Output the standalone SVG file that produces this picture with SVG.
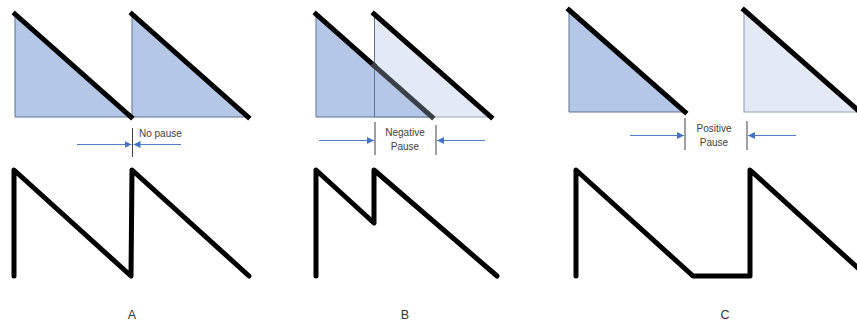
<svg xmlns="http://www.w3.org/2000/svg" width="857" height="324" viewBox="0 0 857 324">
<style>
.dark{fill:#b4c7e7;stroke:none}
.light{fill:#e3e9f5;stroke:none}
.edge{fill:none;stroke:#5f7190;stroke-width:1}
.ledge{fill:none;stroke:#9aa6b8;stroke-width:1.2}
.diag{stroke:#000;stroke-width:5;stroke-linecap:square;fill:none}
.wave{stroke:#000;stroke-width:5;stroke-linecap:round;stroke-linejoin:round;fill:none}
.tick{stroke:#404040;stroke-width:1}
.arr{stroke:#4f7ec4;stroke-width:1;fill:none;marker-end:url(#ah)}
.t{font-family:"Liberation Sans",Arial,sans-serif;font-size:10px;fill:#404040}
.lbl{font-family:"Liberation Sans",Arial,sans-serif;font-size:12.5px;fill:#333;text-anchor:middle}
</style>
<defs>
<marker id="ah" viewBox="0 0 10 10" refX="10" refY="5" markerWidth="7" markerHeight="7" markerUnits="userSpaceOnUse" orient="auto">
<path d="M0,0 L10,5 L0,10 z" fill="#4472c4"/>
</marker>
</defs>

<g id="panelA-top">
<polygon class="dark" points="15,14 131,117 15,117"/>
<polyline class="edge" points="15,14 15,117 131,117"/>
<polygon class="dark" points="132,14 248,117 132,117"/>
<polyline class="edge" points="132,14 132,117 248,117"/>
<line class="diag" x1="15" y1="14" x2="131" y2="117"/>
<line class="diag" x1="132" y1="14" x2="248" y2="117"/>
</g>

<g id="panelA-pause">
<line class="tick" x1="132.5" y1="128" x2="132.5" y2="157"/>
<text class="t" x="139" y="137">No pause</text>
</g>

<g id="panelB-top">
<polygon class="light" points="374,14 491,117 374,117"/>
<polyline class="ledge" points="374,117 491,117"/>
<polygon class="dark" points="316,14 432,117 316,117"/>
<polyline class="edge" points="316,14 316,117 432,117"/>
<line x1="374.5" y1="14" x2="374.5" y2="117" stroke="#5f7190" stroke-width="1"/>
<line class="diag" x1="316" y1="14" x2="374" y2="65.5"/>
<line x1="374" y1="65.5" x2="432" y2="117" stroke="#3a3f48" stroke-width="5" stroke-linecap="square"/>
<line class="diag" x1="374" y1="14" x2="491" y2="117"/>
</g>

<g id="panelB-pause">
<line class="tick" x1="375" y1="122" x2="375" y2="155"/>
<line class="tick" x1="436" y1="125" x2="436" y2="155"/>
<text class="t" x="405" y="136" text-anchor="middle" font-size="10.5">Negative</text>
<text class="t" x="405" y="150" text-anchor="middle" font-size="10.5">Pause</text>
</g>

<g id="panelC-top">
<polygon class="dark" points="569,10 685,112 569,112"/>
<polyline class="edge" points="569,10 569,112 685,112"/>
<polygon class="light" points="744,10 860,112 744,112"/>
<polyline class="ledge" points="744,10 744,112 860,112"/>
<line class="diag" x1="569" y1="10" x2="685" y2="112"/>
<line class="diag" x1="744" y1="10" x2="860" y2="112"/>
</g>

<g id="panelC-pause">
<line class="tick" x1="685" y1="118" x2="685" y2="150"/>
<line class="tick" x1="747" y1="121" x2="747" y2="150"/>
<text class="t" x="714" y="132" text-anchor="middle">Positive</text>
<text class="t" x="714" y="146" text-anchor="middle">Pause</text>
</g>

<g id="connectors">
<line class="arr" x1="77" y1="144.5" x2="131.5" y2="144.5"/>
<line class="arr" x1="181" y1="144.5" x2="133.5" y2="144.5"/>
<line class="arr" x1="319" y1="140.5" x2="374" y2="140.5"/>
<line class="arr" x1="485" y1="140.5" x2="437" y2="140.5"/>
<line class="arr" x1="630" y1="135.5" x2="684" y2="135.5"/>
<line class="arr" x1="796" y1="135.5" x2="748" y2="135.5"/>
</g>

<g id="waveA">
<polyline class="wave" points="14,276 14,170 131,276 132,170 249,276"/>
</g>
<g id="waveB">
<polyline class="wave" points="316,276 316,170 374,223 374,170 497,276"/>
</g>
<g id="waveC">
<polyline class="wave" points="576,276 576,170 693,276 750,276 750,170 870,279"/>
</g>

<g id="labels">
<text class="lbl" x="132" y="319">A</text>
<text class="lbl" x="405" y="319">B</text>
<text class="lbl" x="725" y="319">C</text>
</g>
</svg>
